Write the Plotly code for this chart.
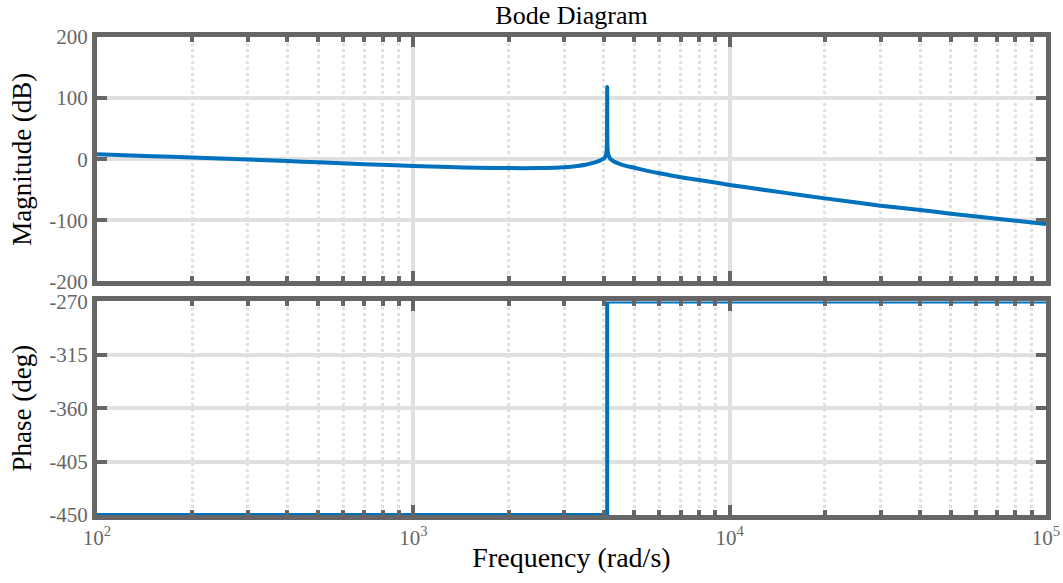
import plotly.graph_objects as go

# Magnitude response
mag_freq = [100, 150, 200, 300, 400, 500, 700, 1000, 1300, 1600, 2000, 2500, 2800,
            3000, 3300, 3500, 3700, 3850, 3950, 4030, 4070, 4090, 4100, 4110, 4130,
            4180, 4250, 4400, 4600, 5000, 5500, 6000, 7000, 8000, 9000, 10000,
            12000, 15000, 20000, 30000, 40000, 50000, 70000, 100000]
mag_db = [8, 5, 3, -0.5, -3, -5, -8, -11, -12.8, -13.8, -14.5, -14.5, -13.8,
          -13, -11, -9, -6, -3, -0.5, 3, 8, 20, 118, 20, 8,
          2, -2, -6, -9.5, -14, -19, -23, -29.5, -34, -38, -42,
          -48, -55, -64, -76, -83, -89, -97.5, -106]

# Phase response
ph_freq = [100, 4100, 4100, 100000]
ph_deg = [-450, -450, -270, -270]

x_ticks = [100, 1000, 10000, 100000]
x_ticktext = ["10<sup>2</sup>", "10<sup>3</sup>", "10<sup>4</sup>", "10<sup>5</sup>"]
mag_ticks = [-200, -100, 0, 100, 200]
mag_ticktext = ["-200", "-100", "0", "100", "200"]
ph_ticks = [-450, -405, -360, -315, -270]
ph_ticktext = ["-450", "-405", "-360", "-315", "-270"]

minor_vals = [m * 10 ** e for e in (2, 3, 4) for m in range(2, 10)]

BLUE = "#0072BD"
AX = "#666666"
GRID = "#e0e0e0"
FONT = "Liberation Serif"

W, H = 1063, 583

fig = go.Figure()
fig.add_trace(go.Scatter(x=mag_freq, y=mag_db, mode="lines",
                         line=dict(color=BLUE, width=4, shape="spline", smoothing=0.6),
                         xaxis="x", yaxis="y", showlegend=False))
fig.add_trace(go.Scatter(x=ph_freq, y=ph_deg, mode="lines",
                         line=dict(color=BLUE, width=4), xaxis="x2", yaxis="y2",
                         showlegend=False, cliponaxis=False))

common_x = dict(type="log", range=[2, 5], showline=True, linecolor=AX, linewidth=5,
                mirror="ticks", ticks="inside", ticklen=10, tickwidth=4, tickcolor=AX,
                tickvals=x_ticks, ticktext=x_ticktext, showgrid=True, gridcolor=GRID,
                gridwidth=4, zeroline=False, automargin=False,
                tickfont=dict(family=FONT, size=21, color=AX),
                minor=dict(tickvals=minor_vals, ticks="inside", ticklen=5, tickwidth=4,
                           tickcolor=AX, showgrid=True, gridcolor=GRID, gridwidth=3,
                           griddash="dot"))
common_y = dict(showline=True, linecolor=AX, linewidth=5, mirror="ticks",
                ticks="inside", ticklen=10, tickwidth=4, tickcolor=AX,
                showgrid=True, gridcolor=GRID, gridwidth=4, zeroline=False,
                automargin=False,
                tickfont=dict(family=FONT, size=21, color=AX))

fig.update_layout(
    width=W, height=H,
    margin=dict(l=97, r=17, t=37, b=68),
    paper_bgcolor="white", plot_bgcolor="white",
    title=dict(text="Bode Diagram", x=0.5, xref="paper", xanchor="center",
               y=1 - 14.5 / H, yanchor="middle",
               font=dict(family=FONT, size=26, color="black")),
    xaxis=dict(common_x, domain=[0, 1], anchor="y", showticklabels=False),
    yaxis=dict(common_y, domain=[0.4885, 1], anchor="x", range=[-200, 200],
               tickvals=mag_ticks, ticktext=mag_ticktext,
               title=dict(text="Magnitude (dB)", standoff=11,
                          font=dict(family=FONT, size=27, color="black"))),
    xaxis2=dict(common_x, domain=[0, 1], anchor="y2",
                title=dict(text="Frequency (rad/s)", standoff=0,
                           font=dict(family=FONT, size=28, color="black"))),
    yaxis2=dict(common_y, domain=[0, 0.4467], anchor="x2", range=[-450, -270],
                tickvals=ph_ticks, ticktext=ph_ticktext,
                title=dict(text="Phase (deg)", standoff=11,
                           font=dict(family=FONT, size=27, color="black"))),
)

fig.write_html("out.html", config={"displayModeBar": False},
               post_script="document.body.style.margin='0';")
